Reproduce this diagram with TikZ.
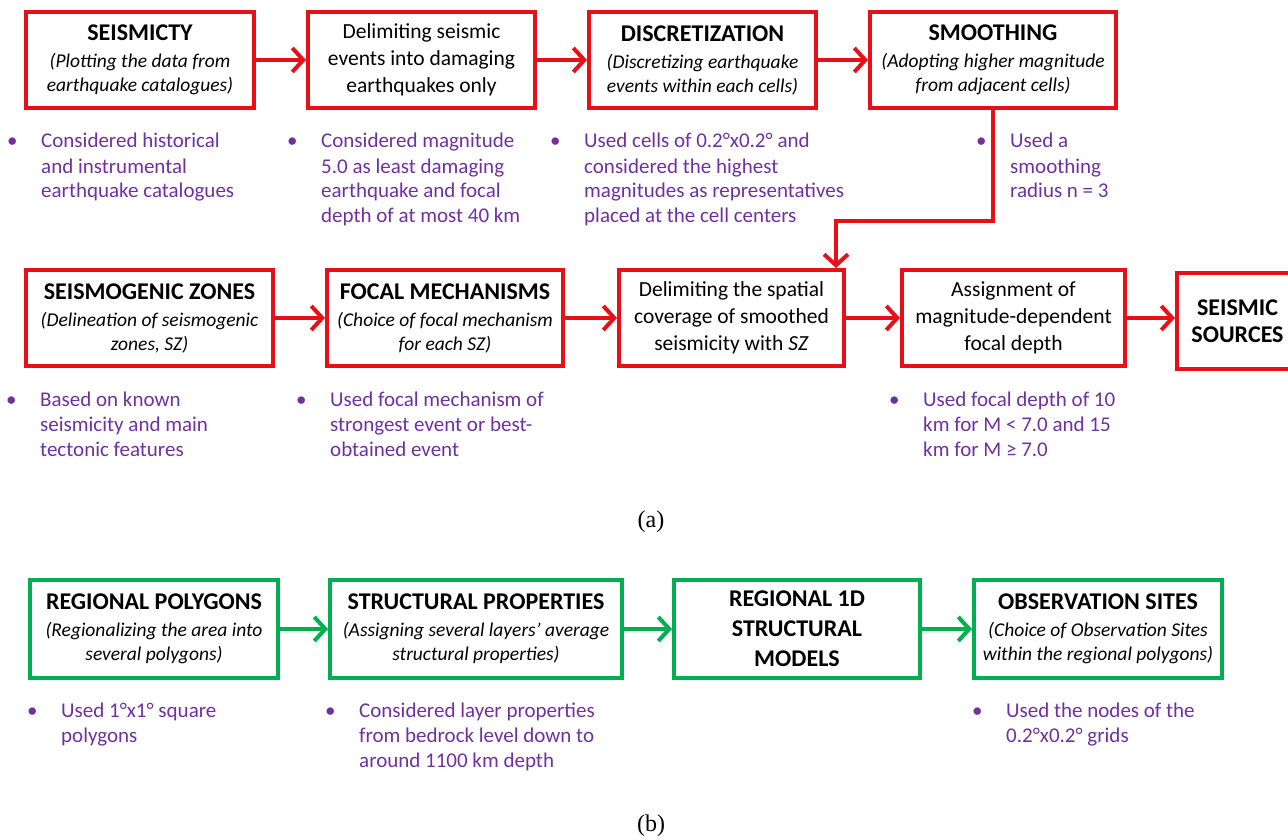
\documentclass[tikz,border=0pt]{standalone}
\usepackage{fontspec}
\setmainfont{Carlito}
\newfontfamily\capfont{Liberation Serif}
\usetikzlibrary{arrows.meta}
\definecolor{boxred}{RGB}{232,16,24}
\definecolor{boxgreen}{RGB}{0,176,80}
\definecolor{notepurple}{RGB}{112,48,160}
\newcommand{\boxhead}[1]{{\fontsize{24}{27}\selectfont\bfseries #1}}
\newcommand{\boxsub}[1]{{\fontsize{19.5}{23}\selectfont\itshape #1}}
\newcommand{\notelist}[1]{\begin{tabular}[t]{@{}p{34pt}@{}l@{}}\textbullet & #1\end{tabular}}

\begin{document}
\begin{tikzpicture}[x=1pt, y=-1pt,
    redbox/.style={draw=boxred, line width=4pt, minimum height=96pt, align=center, inner sep=2pt, font=\fontsize{21.5}{27}\selectfont},
    greenbox/.style={redbox, draw=boxgreen, minimum height=98pt},
    redarrow/.style={draw=boxred, line width=4pt, -{Straight Barb[length=11pt,width=24pt]}},
    greenarrow/.style={redarrow, draw=boxgreen},
    note/.style={anchor=base west, inner sep=0pt, text=notepurple, font=\fontsize{21}{25}\selectfont},
    figlabel/.style={font=\capfont\fontsize{24}{28}\selectfont}]
    \clip (0,0) rectangle (1288,840);

    % (a) seismic sources
    \node[redbox, minimum width=228pt] (seis) at (140,60) {\boxhead{SEISMICTY}\\ \boxsub{(Plotting the data from}\\[-3pt] \boxsub{earthquake catalogues)}};
    \node[redbox, minimum width=227pt] (delim) at (421.5,60) {Delimiting seismic\\ events into damaging\\ earthquakes only};
    \node[redbox, minimum width=227pt] (disc) at (702.5,60) {\boxhead{DISCRETIZATION}\\ \boxsub{(Discretizing earthquake}\\[-3pt] \boxsub{events within each cells)}};
    \node[redbox, minimum width=246pt] (smooth) at (993,60) {\boxhead{SMOOTHING}\\ \boxsub{(Adopting higher magnitude}\\[-3pt] \boxsub{from adjacent cells)}};

    \node[redbox, minimum width=247pt] (zones) at (149.5,318) {\boxhead{SEISMOGENIC ZONES}\\ \boxsub{(Delineation of seismogenic}\\[-3pt] \boxsub{zones, SZ)}};
    \node[redbox, minimum width=236pt] (focal) at (445,318) {\boxhead{FOCAL MECHANISMS}\\ \boxsub{(Choice of focal mechanism}\\[-3pt] \boxsub{for each SZ)}};
    \node[redbox, minimum width=225pt] (cover) at (731.5,318) {Delimiting the spatial\\ coverage of smoothed\\ seismicity with \textit{SZ}};
    \node[redbox, minimum width=223pt] (assign) at (1013.5,318) {Assignment of\\ magnitude-dependent\\ focal depth};
    \node[redbox, minimum width=121pt] (sources) at (1237.5,321) {\boxhead{SEISMIC}\\ \boxhead{SOURCES}};

    \draw[redarrow] (seis) -- (delim);
    \draw[redarrow] (delim) -- (disc);
    \draw[redarrow] (disc) -- (smooth);
    \coordinate (bend) at (836,221);
    \draw[redarrow] (smooth.south) |- (bend) -- ([xshift=-10pt]cover.north east);
    \draw[redarrow] (zones) -- (focal);
    \draw[redarrow] (focal) -- (cover);
    \draw[redarrow] (cover) -- (assign);
    \draw[redarrow] (assign.east) -- (assign.east -| sources.west);

    \node[note] (n1) at (7,148) {\notelist{Considered historical\\ & and instrumental\\ & earthquake catalogues}};
    \node[note] (n2) at (287,148) {\notelist{Considered magnitude\\ & 5.0 as least damaging\\ & earthquake and focal\\ & depth of at most 40 km}};
    \node[note] (n3) at (550,148) {\notelist{Used cells of 0.2°x0.2° and\\ & considered the highest\\ & magnitudes as representatives\\ & placed at the cell centers}};
    \node[note] (n4) at (976,148) {\notelist{Used a\\ & smoothing\\ & radius n = 3}};
    \node[note] (n5) at (6,406) {\notelist{Based on known\\ & seismicity and main\\ & tectonic features}};
    \node[note] (n6) at (296,406) {\notelist{Used focal mechanism of\\ & strongest event or best-\\ & obtained event}};
    \node[note] (n7) at (889,406) {\notelist{Used focal depth of 10\\ & km for M < 7.0 and 15\\ & km for M ≥ 7.0}};

    \node[figlabel] (capa) at (651,522) {(a)};

    % (b) structural models
    \node[greenbox, minimum width=248pt] (poly) at (154,629) {\boxhead{REGIONAL POLYGONS}\\ \boxsub{(Regionalizing the area into}\\[-3pt] \boxsub{several polygons)}};
    \node[greenbox, minimum width=292pt] (struct) at (476,629) {\boxhead{STRUCTURAL PROPERTIES}\\ \boxsub{(Assigning several layers’ average}\\[-3pt] \boxsub{structural properties)}};
    \node[greenbox, minimum width=246pt, font=\fontsize{24}{30}\selectfont\bfseries] (model) at (797,629) {REGIONAL 1D\\ STRUCTURAL\\ MODELS};
    \node[greenbox, minimum width=248pt] (obs) at (1098,629) {\boxhead{OBSERVATION SITES}\\ \boxsub{(Choice of Observation Sites}\\[-3pt] \boxsub{within the regional polygons)}};

    \draw[greenarrow] (poly) -- (struct);
    \draw[greenarrow] (struct) -- (model);
    \draw[greenarrow] (model) -- (obs);

    \node[note] (n8) at (27,717) {\notelist{Used 1°x1° square\\ & polygons}};
    \node[note] (n9) at (325,717) {\notelist{Considered layer properties\\ & from bedrock level down to\\ & around 1100 km depth}};
    \node[note] (n10) at (972,717) {\notelist{Used the nodes of the\\ & 0.2°x0.2° grids}};

    \node[figlabel] (capb) at (651,826) {(b)};
\end{tikzpicture}
\end{document}
